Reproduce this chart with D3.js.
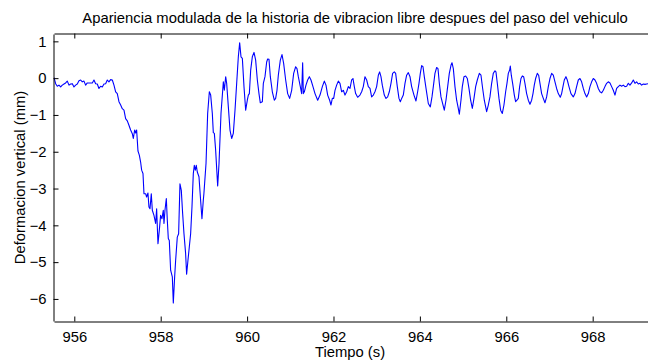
<!DOCTYPE html>
<html>
<head>
<meta charset="utf-8">
<script src="https://cdn.jsdelivr.net/npm/d3@7"></script>
<style>
  body { margin: 0; background: #fff; }
  svg { display: block; }
  text { font-family: "Liberation Sans", Arial, Helvetica, sans-serif; fill: #000; }
</style>
</head>
<body>
<svg id="chart" width="648" height="360"></svg>
<script>
// Registro medido: tiempo (s) y deformacion vertical (mm)
const tiempo = [
  955.529, 955.568, 955.606, 955.645, 955.684, 955.722, 955.761, 955.799, 955.838, 955.877,
  955.915, 955.954, 955.992, 956.031, 956.069, 956.108, 956.147, 956.185, 956.224, 956.262,
  956.301, 956.340, 956.378, 956.417, 956.455, 956.494, 956.532, 956.571, 956.610, 956.648,
  956.687, 956.725, 956.764, 956.802, 956.841, 956.880, 956.918, 956.957, 956.995, 957.034,
  957.073, 957.111, 957.150, 957.188, 957.227, 957.265, 957.304, 957.343, 957.366, 957.397,
  957.420, 957.443, 957.474, 957.505, 957.535, 957.559, 957.590, 957.613, 957.651, 957.674,
  957.705, 957.728, 957.752, 957.782, 957.806, 957.844, 957.883, 957.906, 957.937, 957.968,
  957.998, 958.029, 958.060, 958.076, 958.099, 958.130, 958.153, 958.176, 958.199, 958.230,
  958.269, 958.292, 958.323, 958.346, 958.384, 958.415, 958.446, 958.477, 958.508, 958.539,
  958.577, 958.600, 958.631, 958.662, 958.693, 958.724, 958.755, 958.778, 958.801, 958.824,
  958.847, 958.886, 958.924, 958.955, 958.986, 959.000,
  959.049, 959.087, 959.126, 959.157, 959.195, 959.218, 959.242, 959.272, 959.319, 959.350,
  959.396, 959.450, 959.473, 959.504, 959.527, 959.566, 959.604, 959.643, 959.681, 959.720,
  959.759, 959.797, 959.828, 959.859, 959.890, 959.928, 959.967, 960.005, 960.029, 960.052,
  960.083, 960.121, 960.160, 960.198, 960.237, 960.275, 960.306, 960.353, 960.376, 960.414,
  960.453, 960.476, 960.507, 960.538, 960.584, 960.630, 960.661, 960.692, 960.723, 960.769,
  960.808, 960.846, 960.893, 960.939, 960.985, 961.032, 961.078, 961.124, 961.155, 961.186,
  961.225, 961.263, 961.286, 961.302, 961.325, 961.363, 961.402, 961.441, 961.479, 961.525,
  961.572, 961.634, 961.688, 961.742, 961.788, 961.826, 961.865, 961.911, 961.942, 961.973,
  962.004, 962.035, 962.073, 962.112, 962.150, 962.189, 962.228,
  962.266, 962.305, 962.343, 962.382, 962.420, 962.451, 962.482, 962.513, 962.559, 962.613,
  962.652, 962.690, 962.729, 962.768, 962.806, 962.845, 962.883, 962.922, 962.960, 962.999,
  963.038, 963.068, 963.099, 963.130, 963.176, 963.215, 963.254, 963.292, 963.331, 963.369,
  963.408, 963.439, 963.477, 963.516, 963.547, 963.578, 963.616, 963.655, 963.693, 963.732,
  963.771, 963.809, 963.863, 963.909, 963.948, 963.979, 964.010, 964.041, 964.072, 964.102,
  964.149, 964.195, 964.241, 964.280, 964.311, 964.349, 964.388, 964.419, 964.450, 964.488,
  964.527, 964.565, 964.604, 964.643, 964.681, 964.720, 964.743, 964.774, 964.812, 964.851,
  964.889, 964.913, 964.951, 964.982, 965.021, 965.059, 965.098, 965.136, 965.175, 965.214,
  965.252, 965.291, 965.329, 965.376, 965.414, 965.453, 965.491, 965.545, 965.584, 965.622,
  965.661, 965.699,
  965.738, 965.761, 965.792, 965.831, 965.869, 965.908, 965.946, 965.985, 966.016, 966.047,
  966.078, 966.093, 966.116, 966.147, 966.186, 966.216, 966.247, 966.278, 966.309, 966.340,
  966.371, 966.402, 966.432, 966.471, 966.510, 966.548, 966.587, 966.618, 966.648, 966.679,
  966.718, 966.749, 966.780, 966.818, 966.857, 966.895, 966.934, 966.973, 967.011, 967.050,
  967.088, 967.127, 967.165, 967.204, 967.250, 967.281, 967.312, 967.343, 967.381, 967.412,
  967.451, 967.497, 967.551, 967.590, 967.628, 967.667, 967.706, 967.744, 967.783, 967.821,
  967.860, 967.899, 967.937, 967.976, 968.014, 968.053, 968.091, 968.130, 968.169, 968.207,
  968.246, 968.284, 968.323, 968.361, 968.400, 968.439, 968.477, 968.516, 968.554, 968.593,
  968.632, 968.670, 968.709, 968.747, 968.786, 968.825, 968.863, 968.902, 968.940, 968.979,
  969.017, 969.056, 969.095, 969.133, 969.172, 969.210, 969.249, 969.300
];

const deformacion = [
   0.02, -0.15, -0.22, -0.19, -0.24, -0.19, -0.16, -0.13, -0.08, -0.19,
  -0.16, -0.15, -0.24, -0.19, -0.16, -0.07, -0.05, -0.10, -0.08, -0.19,
  -0.13, -0.13, -0.13, -0.13, -0.05, -0.15, -0.16, -0.28, -0.22, -0.24,
  -0.16, -0.15, -0.05, -0.10, -0.04, -0.05, -0.19, -0.37, -0.42, -0.64,
  -0.73, -0.83, -0.87, -1.10, -1.16, -1.28, -1.41, -1.51, -1.64, -1.41,
  -1.49, -1.41, -1.98, -2.09, -2.28, -2.50, -2.59, -3.14, -3.14, -3.23,
  -3.12, -3.50, -3.55, -3.14, -3.59, -3.73, -3.95, -3.55, -4.50, -4.13,
  -3.73, -3.82, -3.59, -3.95, -3.59, -3.27, -3.86, -4.36, -4.41, -5.22,
  -5.40, -6.11, -5.40, -4.95, -4.32, -4.23, -2.87, -3.05, -3.68, -4.23,
  -4.77, -5.33, -4.95, -4.59, -4.23, -3.50, -2.59, -2.37, -2.50, -2.37,
  -2.55, -2.68, -3.32, -3.82, -3.32, -3.14,
  -2.32, -0.96, -0.37, -0.46, -0.96, -1.48, -1.50, -1.96, -2.93, -2.32,
  -0.96, -0.10, -0.33,  0.04, -0.14, -0.78, -1.41, -1.64, -1.50, -0.87,
  -0.14,  0.58,  0.96,  0.58,  0.54, -0.23, -0.87, -0.60, -0.46, -0.42,
   0.22,  0.58,  0.70,  0.49, -0.05, -0.42, -0.67, -0.64, -0.14,  0.04,
   0.44,  0.52,  0.51,  0.04, -0.37, -0.60, -0.55, -0.33,  0.08,  0.49,
   0.64,  0.40, -0.05, -0.42, -0.55, -0.33,  0.13,  0.31,  0.26,  0.04,
  -0.19, -0.42,  0.42, -0.42, -0.37, -0.19, -0.05,  0.04, -0.05, -0.23,
  -0.42, -0.60, -0.46, -0.23, -0.08, -0.19, -0.46, -0.60, -0.73, -0.55,
  -0.55, -0.33, -0.19, -0.08, -0.14, -0.37, -0.33,
  -0.46, -0.37, -0.23, -0.28, -0.05, -0.01, -0.23, -0.42, -0.52, -0.46,
  -0.37, -0.23,  0.04, -0.05, -0.23, -0.28, -0.51, -0.46, -0.37, -0.23,
   0.08,  0.17,  0.04, -0.19, -0.46, -0.55, -0.51, -0.37, -0.14,  0.13,
   0.17,  0.13, -0.23, -0.55, -0.64, -0.55, -0.46, -0.14,  0.08,  0.15,
   0.04, -0.23, -0.46, -0.62, -0.37, -0.14,  0.13,  0.34,  0.31,  0.04,
  -0.33, -0.69, -0.78, -0.51, -0.23,  0.13,  0.29,  0.26, -0.14, -0.51,
  -0.69, -0.87, -0.60, -0.23,  0.13,  0.35,  0.42,  0.26, -0.23, -0.60,
  -0.82, -0.98, -0.60, -0.23,  0.04,  0.06, -0.01, -0.28, -0.60, -0.82,
  -0.55, -0.23, -0.05,  0.13,  0.08, -0.28, -0.60, -0.91, -0.73, -0.51,
  -0.14,  0.13,
   0.20,  0.17, -0.14, -0.55, -0.87, -0.96, -0.73, -0.37, -0.14,  0.13,
   0.22,  0.33,  0.08, -0.14, -0.46, -0.64, -0.60, -0.55, -0.23, -0.01,
   0.06,  0.04, -0.14, -0.42, -0.60, -0.71, -0.60, -0.42, -0.19, -0.01,
   0.13,  0.08, -0.14, -0.42, -0.55, -0.67, -0.51, -0.23, -0.01,  0.13,
   0.08, -0.10, -0.28, -0.42, -0.52, -0.42, -0.23, -0.05,  0.04, -0.05,
  -0.23, -0.42, -0.51, -0.42, -0.23, -0.05, -0.01, -0.10, -0.28, -0.42,
  -0.51, -0.42, -0.23, -0.10, -0.01, -0.05, -0.14, -0.28, -0.37, -0.40,
  -0.33, -0.23, -0.14, -0.10, -0.13, -0.23, -0.33, -0.46, -0.28, -0.23,
  -0.19, -0.22, -0.19, -0.23, -0.22, -0.14, -0.19, -0.13, -0.05, -0.14,
  -0.10, -0.16, -0.14, -0.19, -0.16, -0.17, -0.16, -0.15
];

const xTicks = [956, 958, 960, 962, 964, 966, 968];
const yTicks = [-6, -5, -4, -3, -2, -1, 0, 1];

const titulo = "Apariencia modulada de la historia de vibracion libre despues del paso del vehiculo";
const etiquetaX = "Tiempo (s)";
const etiquetaY = "Deformacion vertical (mm)";

const area = { left: 54, right: 651, top: 34, bottom: 321 };

const svg = d3.select("#chart");

const x = d3.scaleLinear().domain([955.53, 969.35]).range([area.left, area.right]);
const y = d3.scaleLinear().domain([-6.6, 1.2]).range([area.bottom, area.top]);

const puntos = tiempo.map((t, i) => [t, deformacion[i]]);

svg.append("defs").append("clipPath").attr("id", "recorte")
  .append("rect")
  .attr("x", area.left).attr("y", area.top)
  .attr("width", area.right - area.left).attr("height", area.bottom - area.top);

// Serie temporal
svg.append("path")
  .datum(puntos)
  .attr("clip-path", "url(#recorte)")
  .attr("fill", "none")
  .attr("stroke", "#0000ff")
  .attr("stroke-width", 1.1)
  .attr("stroke-linejoin", "round")
  .attr("d", d3.line().x(d => x(d[0])).y(d => y(d[1])));

const fuente = 14.8;

// Eje inferior (marcas hacia dentro)
const gx = svg.append("g")
  .attr("transform", `translate(0,${area.bottom + 0.5})`)
  .call(d3.axisBottom(x).tickValues(xTicks).tickFormat(d3.format("d"))
    .tickSizeInner(-5).tickSizeOuter(0).tickPadding(10));

// Eje superior, solo marcas
const gt = svg.append("g")
  .attr("transform", `translate(0,${area.top - 0.5})`)
  .call(d3.axisTop(x).tickValues(xTicks).tickFormat("")
    .tickSizeInner(-5).tickSizeOuter(0));

// Eje izquierdo
const gy = svg.append("g")
  .attr("transform", `translate(${area.left - 0.5},0)`)
  .call(d3.axisLeft(y).tickValues(yTicks).tickFormat(d3.format("d"))
    .tickSizeInner(-5).tickSizeOuter(0).tickPadding(7));

[gx, gt, gy].forEach(g => {
  g.select(".domain").attr("stroke", "#000").attr("stroke-width", 1);
  g.selectAll(".tick line").attr("stroke", "#000").attr("stroke-width", 1);
  g.selectAll(".tick text")
    .style("font-family", '"Liberation Sans", Arial, sans-serif')
    .style("font-size", fuente + "px")
    .attr("fill", "#000");
});

// Textos
svg.append("text")
  .attr("x", 355).attr("y", 23)
  .attr("text-anchor", "middle")
  .style("font-size", fuente + "px")
  .text(titulo);

svg.append("text")
  .attr("x", 350).attr("y", 357)
  .attr("text-anchor", "middle")
  .style("font-size", fuente + "px")
  .text(etiquetaX);

svg.append("text")
  .attr("transform", `translate(25,${(area.top + area.bottom) / 2}) rotate(-90)`)
  .attr("text-anchor", "middle")
  .style("font-size", fuente + "px")
  .text(etiquetaY);
</script>
</body>
</html>
